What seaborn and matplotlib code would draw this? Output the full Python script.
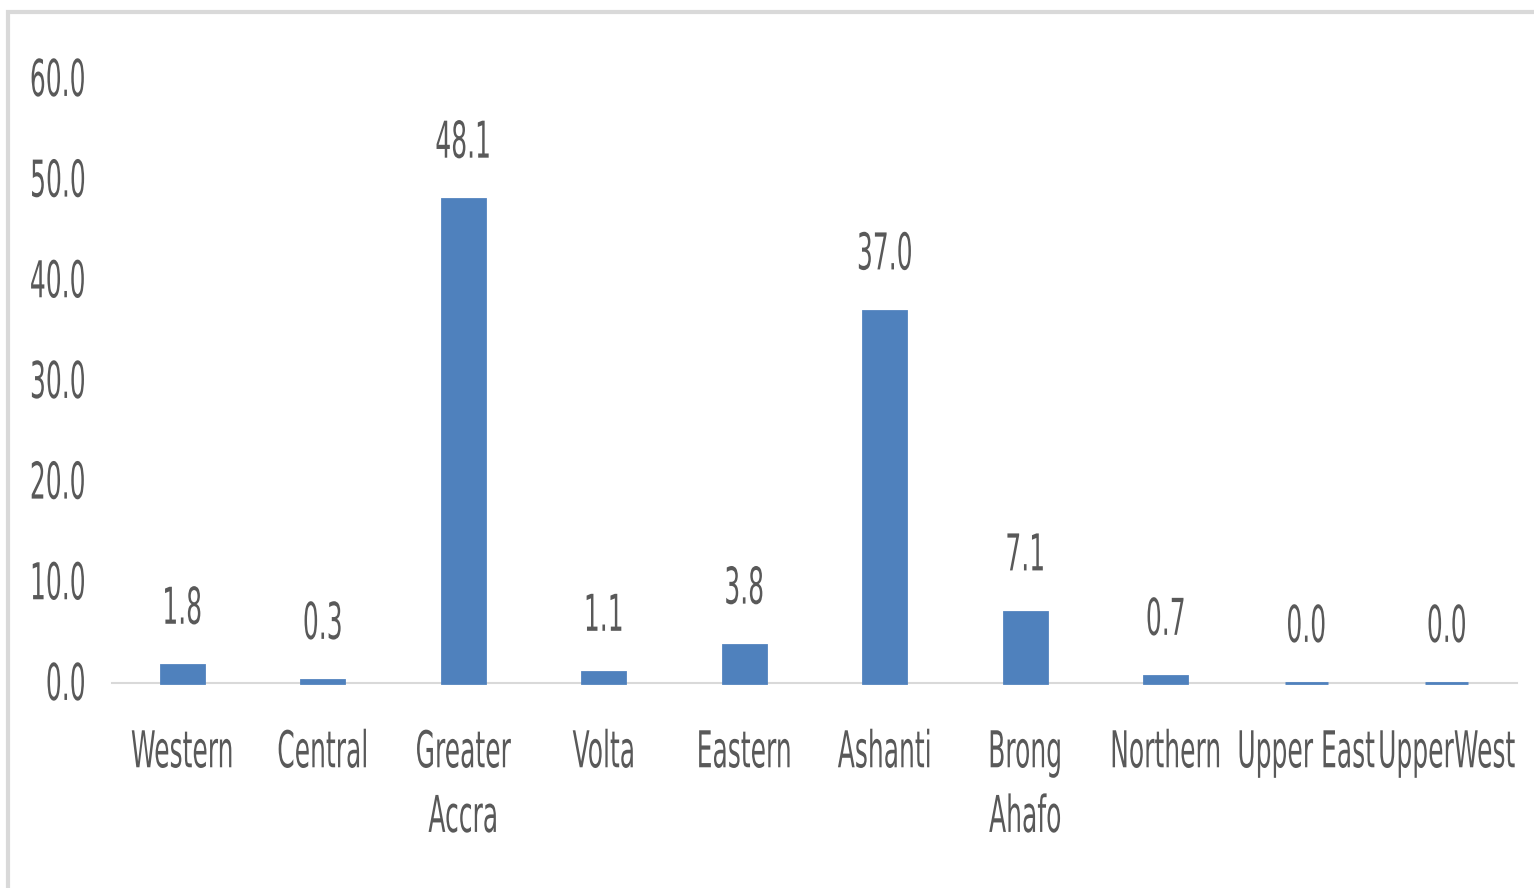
import matplotlib
matplotlib.use('Agg')
import matplotlib.pyplot as plt
import matplotlib.patheffects as pe
from matplotlib.transforms import Affine2D, ScaledTranslation
from matplotlib.patches import Rectangle
import seaborn as sns

# дані з графіка
regions = ['Western', 'Central', 'Greater\nAccra', 'Volta', 'Eastern', 'Ashanti',
           'Brong\nAhafo', 'Northern', 'Upper East', 'UpperWest']
values = [1.8, 0.3, 48.1, 1.1, 3.8, 37.0, 7.1, 0.7, 0.0, 0.0]
y_ticks = [0, 10, 20, 30, 40, 50, 60]

bar_color = '#4F81BD'
text_color = '#595959'
fsize = 18


# шрифт витягнутий по вертикалі (вузькі літери, як у вихідній картинці)
class Stretch(pe.AbstractPathEffect):
    def __init__(self, sy):
        super().__init__()
        self.sy = sy

    def draw_path(self, renderer, gc, tpath, affine, rgbFace=None):
        renderer.draw_path(gc, tpath, Affine2D().scale(1, self.sy) + affine, rgbFace)


stretch = [Stretch(2.03)]

sns.set_style('white')
plt.rcParams['font.family'] = ['DejaVu Sans']

fig = plt.figure(figsize=(15.34, 8.88), dpi=100)
ax = fig.add_axes([112 / 1534, 1 - 683 / 888, 1405 / 1534, 604 / 888])

sns.barplot(x=regions, y=values, color=bar_color, width=0.305, saturation=1,
            edgecolor=bar_color, linewidth=2, ax=ax)
for p in ax.patches:
    p.set_clip_on(False)

ax.set_ylim(0, 60)
ax.set_yticks(y_ticks)
ax.set_yticklabels([f'{v:.1f}' for v in y_ticks])
ax.set_xlabel('')
ax.set_ylabel('')

for s in ['top', 'right', 'left']:
    ax.spines[s].set_visible(False)
ax.spines['bottom'].set_color('#D9D9D9')
ax.spines['bottom'].set_linewidth(1.5)
ax.spines['bottom'].set_zorder(0)

ax.tick_params(axis='both', length=0, labelsize=fsize, labelcolor=text_color)
ax.tick_params(axis='y', pad=19)
ax.tick_params(axis='x', pad=47)

down = ScaledTranslation(0, -12.2 / 72, fig.dpi_scale_trans)
for lbl in ax.get_yticklabels():
    lbl.set_va('baseline')
    lbl.set_transform(lbl.get_transform() + down)
    lbl.set_path_effects(stretch)
for lbl in ax.get_xticklabels():
    lbl.set_linespacing(3.14)
    lbl.set_path_effects(stretch)

ax.bar_label(ax.containers[0], fmt='%.1f', padding=26, fontsize=fsize,
             color=text_color, path_effects=stretch)

# рамка навколо графіка
fig.patches.append(Rectangle((8 / 1534, -0.2), 1.5, 1.2 - 12 / 888, transform=fig.transFigure,
                             fill=False, edgecolor='#D9D9D9', linewidth=3))

plt.savefig('out.png', dpi=100)
